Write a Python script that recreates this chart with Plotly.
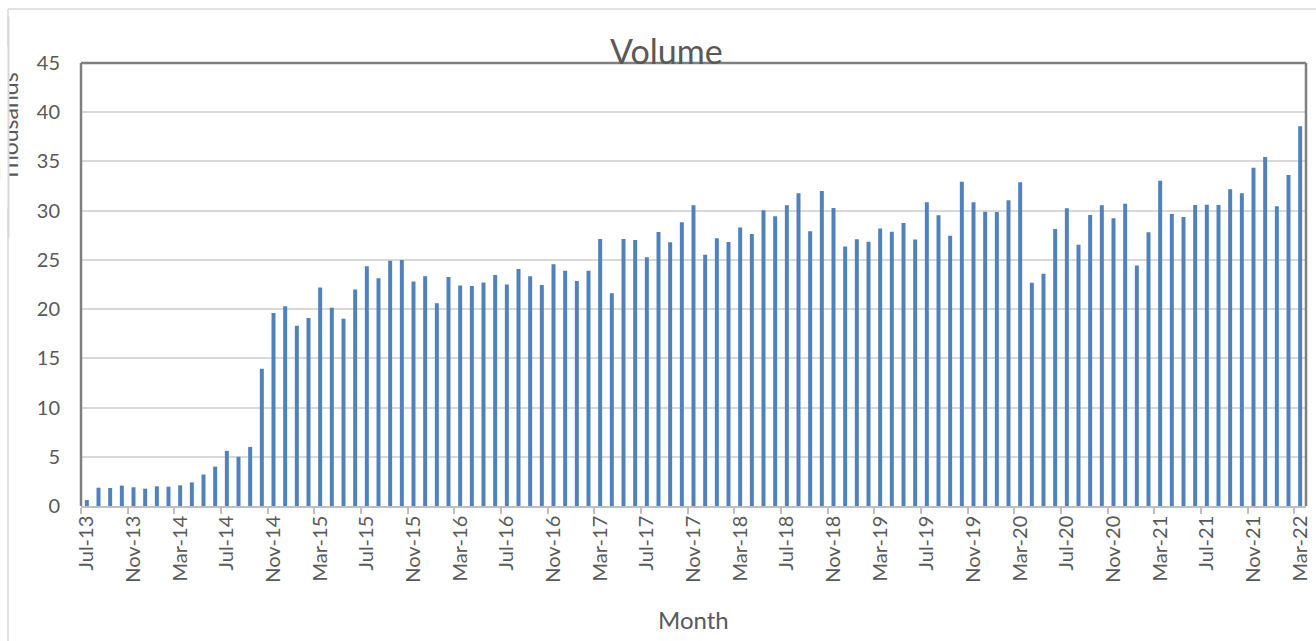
import plotly.graph_objects as go

# ---- data ----
months = []
mnames = ["Jan", "Feb", "Mar", "Apr", "May", "Jun", "Jul", "Aug", "Sep", "Oct", "Nov", "Dec"]
y, m = 2013, 7
while (y, m) <= (2022, 3):
    months.append(f"{mnames[m-1]}-{str(y)[2:]}")
    m += 1
    if m > 12:
        m, y = 1, y + 1

volume_thousands = [
    0.6, 1.86, 1.83, 2.07, 1.9, 1.76, 2.0, 1.96, 2.1, 2.4,
    3.2, 4.0, 5.6, 5.0, 6.0, 13.95, 19.6, 20.3, 18.3, 19.1,
    22.2, 20.15, 19.03, 22.0, 24.35, 23.13, 24.9, 25.0, 22.8, 23.33,
    20.6, 23.26, 22.4, 22.35, 22.7, 23.47, 22.5, 24.08, 23.33, 22.45,
    24.55, 23.9, 22.86, 23.9, 27.13, 21.6, 27.13, 27.02, 25.26, 27.84,
    26.79, 28.82, 30.55, 25.53, 27.19, 26.82, 28.28, 27.63, 30.04, 29.43,
    30.55, 31.76, 27.9, 32.0, 30.27, 26.35, 27.09, 26.85, 28.2, 27.87,
    28.75, 27.06, 30.85, 29.53, 27.46, 32.95, 30.85, 29.9, 29.87, 31.05,
    32.88, 22.69, 23.6, 28.14, 30.24, 26.55, 29.56, 30.55, 29.22, 30.71,
    24.42, 27.8, 33.05, 29.66, 29.36, 30.58, 30.61, 30.58, 32.17, 31.76,
    34.37, 35.45, 30.44, 33.63, 38.57,
]

chart_title = "Volume"
x_title = "Month"
y_title = "Thousands"

# ---- geometry helpers (pixel -> paper) ----
W, H = 1316, 641
L, R, T, B = 81, 10, 63, 135
PW, PH = W - L - R, H - T - B


def px(xp):
    return (xp - L) / PW


def py(yp):
    return (H - B - yp) / PH


FONT = "Lato"
GREY = "#595959"

fig = go.Figure(
    go.Bar(
        x=months,
        y=volume_thousands,
        marker=dict(color="#4f81bd", line=dict(width=0)),
        hoverinfo="x+y",
    )
)

fig.update_layout(
    width=W,
    height=H,
    margin=dict(l=L, r=R, t=T, b=B, autoexpand=False),
    paper_bgcolor="white",
    plot_bgcolor="white",
    bargap=0.66,
    showlegend=False,
    font=dict(family=FONT, color=GREY, size=20),
)

fig.update_xaxes(
    type="category",
    range=[-0.5, len(months) - 0.5],
    tickmode="linear",
    tick0=0,
    dtick=4,
    tickangle=-90,
    tickson="boundaries",
    ticks="outside",
    ticklen=6,
    tickwidth=1.5,
    tickcolor="#bfbfbf",
    showline=True,
    linecolor="#bfbfbf",
    linewidth=1.5,
    showgrid=False,
    tickfont=dict(family=FONT, size=20, color=GREY),
    automargin=False,
)

fig.update_yaxes(
    range=[0, 45],
    tickmode="linear",
    tick0=0,
    dtick=5,
    showgrid=True,
    gridcolor="#d9d9d9",
    gridwidth=1.5,
    zeroline=False,
    showline=False,
    ticks="",
    ticklabelstandoff=20,
    tickfont=dict(family=FONT, size=20, color=GREY),
    automargin=False,
)

line_dark = dict(color="#7f7f7f", width=2.5)
line_light = dict(color="#d9d9d9", width=1.5)
fig.update_layout(
    shapes=[
        dict(type="line", xref="paper", yref="paper", x0=0, x1=0, y0=0, y1=1, line=line_dark),
        dict(type="line", xref="paper", yref="paper", x0=0, x1=1, y0=1, y1=1, line=line_dark),
        dict(type="line", xref="paper", yref="paper", x0=1, x1=1, y0=0, y1=1, line=line_dark),
        dict(type="line", xref="paper", yref="paper", x0=px(8), x1=px(8), y0=py(641), y1=py(9), line=line_light),
        dict(type="line", xref="paper", yref="paper", x0=px(8), x1=px(1316), y0=py(9), y1=py(9), line=line_light),
    ],
    annotations=[
        dict(text=chart_title, xref="paper", yref="paper", x=px(666), y=py(50),
             xanchor="center", yanchor="middle", showarrow=False,
             font=dict(family=FONT, size=34, color=GREY)),
        dict(text=x_title, xref="paper", yref="paper", x=0.5, y=py(619),
             xanchor="center", yanchor="middle", showarrow=False,
             font=dict(family=FONT, size=24, color=GREY)),
        dict(text=y_title, xref="paper", yref="paper", x=px(8.5), y=py(127),
             xanchor="center", yanchor="middle", textangle=-90, showarrow=False,
             font=dict(family=FONT, size=23, color=GREY)),
        # white mask that trims the axis title like the cropped original
        dict(text=" ", xref="paper", yref="paper", x=px(0), y=py(127),
             xanchor="left", yanchor="middle", width=7, height=160, borderpad=0,
             bgcolor="white", showarrow=False),
        # redraw the outer frame segment over the mask
        dict(text=" ", xref="paper", yref="paper", x=px(8), y=py(127),
             xanchor="center", yanchor="middle", width=1, height=220, borderpad=0,
             bgcolor="#d9d9d9", showarrow=False),
    ],
)

fig.write_html(
    "out.html",
    config={"displayModeBar": False},
    post_script="document.body.style.margin='0';document.body.style.overflow='hidden';",
)
